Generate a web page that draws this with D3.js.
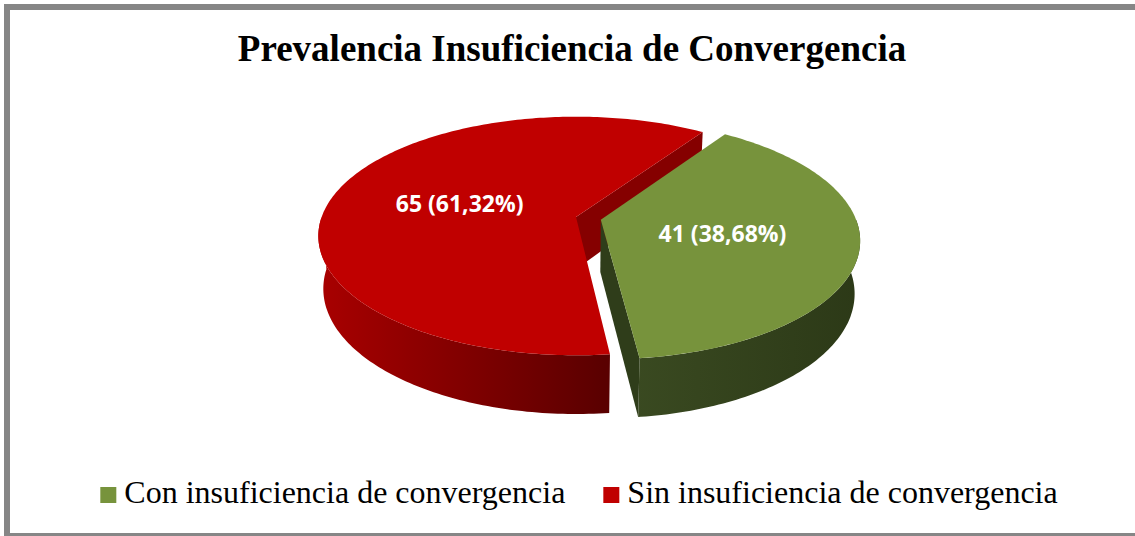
<!DOCTYPE html>
<html>
<head>
<meta charset="utf-8">
<script src="https://cdn.jsdelivr.net/npm/d3@7"></script>
<style>
  body { margin: 0; background: #fff; }
</style>
</head>
<body>
<svg id="chart"></svg>
<script>
const svgWidth = 1135;
const svgHeight = 536;

// data
const categories = ["Con insuficiencia de convergencia", "Sin insuficiencia de convergencia"];
const counts = [41, 65];
const topColors = ["#77933C", "#C00000"];
const sideColors = [["#3A4A21", "#2C3917"], ["#A80000", "#5A0000"]];
const wallColors = ["#2F3D1A", "#850000"];
const explode = [0.1, 0];

const total = d3.sum(counts);
const fmtPct = v => d3.format(".2f")(v).replace(".", ",");

// simple 3d projection of the pie disc (x right, z far, y down)
const cx = 576, cy = 217;
const focal = 1422, dist = 5.59, thick = 0.235;
const tilt = 27.2 * Math.PI / 180;

function project(x, z, y) {
  const yp = y * Math.cos(tilt) - z * Math.sin(tilt);
  const zp = z * Math.cos(tilt) + y * Math.sin(tilt);
  const s = focal / (dist + zp);
  return [cx + x * s, cy + yp * s];
}

const svg = d3.select("#chart")
  .attr("width", svgWidth)
  .attr("height", svgHeight);

// chart border (right side is cut off)
svg.append("rect")
  .attr("x", 7).attr("y", 7)
  .attr("width", svgWidth).attr("height", svgHeight - 7)
  .attr("fill", "#fff")
  .attr("stroke", "#868686")
  .attr("stroke-width", 6);

svg.append("text")
  .attr("x", 572)
  .attr("y", 61)
  .attr("text-anchor", "middle")
  .style("font-family", "'Liberation Serif', 'Times New Roman', serif")
  .style("font-weight", "bold")
  .style("font-size", "37px")
  .text("Prevalencia Insuficiencia de Convergencia");

const defs = svg.append("defs");
sideColors.forEach((c, i) => {
  const g = defs.append("linearGradient")
    .attr("id", "side" + i)
    .attr("gradientUnits", "userSpaceOnUse")
    .attr("x1", i === 0 ? 630 : 320).attr("x2", i === 0 ? 860 : 605)
    .attr("y1", 0).attr("y2", 0);
  g.append("stop").attr("offset", "0%").attr("stop-color", c[0]);
  g.append("stop").attr("offset", "100%").attr("stop-color", c[1]);
});

const pie = d3.pie()
  .sort(null)
  .value(d => d)
  .startAngle(34.3 * Math.PI / 180)
  .endAngle(34.3 * Math.PI / 180 + 2 * Math.PI);

const arcs = pie(counts).map((a, i) => {
  const mid = (a.startAngle + a.endAngle) / 2;
  return {
    ...a, i, mid,
    ox: explode[i] * Math.sin(mid),
    oz: explode[i] * Math.cos(mid)
  };
});

const line = d3.line();
const step = Math.PI / 180;

function rim(a, a0, a1, y) {
  const pts = [];
  for (let t = a0; t < a1; t += step) pts.push(project(a.ox + Math.sin(t), a.oz + Math.cos(t), y));
  pts.push(project(a.ox + Math.sin(a1), a.oz + Math.cos(a1), y));
  return pts;
}

function wallVisible(a, ang, isStart) {
  const nx = isStart ? -Math.cos(ang) : Math.cos(ang);
  const nz = isStart ? Math.sin(ang) : -Math.sin(ang);
  const px = a.ox + 0.5 * Math.sin(ang), pz = a.oz + 0.5 * Math.cos(ang);
  return nx * (0 - px) + nz * (-dist * Math.cos(tilt) - pz) > 0;
}

// red first, then the exploded green slice
[arcs[1], arcs[0]].forEach(a => {
  const g = svg.append("g").attr("class", "slice");

  // outer side, near half only
  const s0 = Math.max(a.startAngle, Math.PI / 2);
  const s1 = Math.min(a.endAngle, 3 * Math.PI / 2);
  if (s1 > s0) {
    const pts = rim(a, s0, s1, 0).concat(rim(a, s0, s1, thick).reverse());
    g.append("path")
      .attr("d", line(pts) + "Z")
      .attr("fill", "url(#side" + a.i + ")");
  }

  // radial walls
  [[a.startAngle, true], [a.endAngle, false]].forEach(([ang, isStart]) => {
    if (!wallVisible(a, ang, isStart)) return;
    const pts = [
      project(a.ox, a.oz, 0),
      project(a.ox + Math.sin(ang), a.oz + Math.cos(ang), 0),
      project(a.ox + Math.sin(ang), a.oz + Math.cos(ang), thick),
      project(a.ox, a.oz, thick)
    ];
    g.append("path")
      .attr("d", line(pts) + "Z")
      .attr("fill", wallColors[a.i]);
  });

  // top face
  const top = [project(a.ox, a.oz, 0)].concat(rim(a, a.startAngle, a.endAngle, 0));
  g.append("path")
    .attr("d", line(top) + "Z")
    .attr("fill", topColors[a.i]);
});

// data labels
svg.selectAll(".data-label")
  .data(arcs)
  .enter().append("text")
  .attr("class", "data-label")
  .attr("transform", a => {
    const p = project(a.ox + 0.48 * Math.sin(a.mid), a.oz + 0.48 * Math.cos(a.mid), 0);
    return `translate(${p[0]},${p[1]})`;
  })
  .attr("dy", "0.35em")
  .attr("text-anchor", "middle")
  .style("font-family", "'Open Sans', sans-serif")
  .style("font-weight", "bold")
  .style("font-size", "23px")
  .style("fill", "#fff")
  .text(a => `${a.data} (${fmtPct(a.data / total * 100)}%)`);

// legend
const legend = svg.append("g").attr("class", "legend");
const items = legend.selectAll(".item")
  .data(categories)
  .enter().append("g")
  .attr("class", "item");

items.append("rect")
  .attr("x", 0).attr("y", -16)
  .attr("width", 16).attr("height", 16)
  .attr("fill", (d, i) => topColors[i]);

items.append("text")
  .attr("x", 24)
  .attr("y", 0)
  .style("font-family", "'Liberation Serif', 'Times New Roman', serif")
  .style("font-size", "32px")
  .text(d => d);

let xPos = 0;
const widths = [];
items.each(function () {
  const w = 24 + this.querySelector("text").getComputedTextLength();
  widths.push(w);
});
items.attr("transform", (d, i) => {
  const x = xPos;
  xPos += widths[i] + 38;
  return `translate(${x},0)`;
});
const legendWidth = xPos - 38;
legend.attr("transform", `translate(${579 - legendWidth / 2},503)`);
</script>
</body>
</html>
